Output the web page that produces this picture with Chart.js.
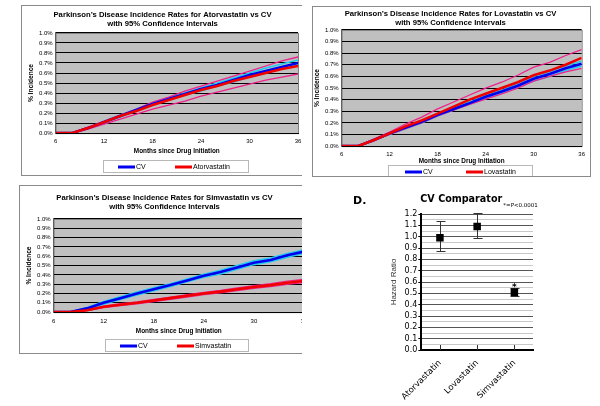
<!DOCTYPE html>
<html>
<head>
<meta charset="utf-8">
<script src="https://cdn.jsdelivr.net/npm/chart.js@4.4.1/dist/chart.umd.min.js"></script>
<style>
body { margin: 0; background: #fff; width: 600px; height: 406px; overflow: hidden; position: relative; }
.panel { position: absolute; overflow: hidden; background: #fff; border: 1px solid #8a8a8a; }
canvas { display: block; }
</style>
</head>
<body>
<div class="panel" style="left:21px;top:5px;width:280px;height:169px;border-right:none"><canvas id="chartA" width="292" height="169"></canvas></div>
<div class="panel" style="left:312px;top:6px;width:277px;height:169px"><canvas id="chartB" width="277" height="169"></canvas></div>
<div class="panel" style="left:19px;top:185px;width:282px;height:167px;border-right:none"><canvas id="chartC" width="296" height="167"></canvas></div>
<canvas id="chartD" width="260" height="221" style="position:absolute;left:340px;top:185px"></canvas>
<script>
// months since drug initiation (x values of the incidence curves)
const months = [6, 8, 10, 12, 14, 16, 18, 20, 22, 24, 26, 28, 30, 32, 34, 36];

// A. Atorvastatin vs CV (% incidence)
const atorCV   = [0, 0, 0.05, 0.11, 0.17, 0.23, 0.29, 0.34, 0.39, 0.44, 0.48, 0.53, 0.58, 0.62, 0.66, 0.70];
const atorCVHi = [0, 0, 0.05, 0.12, 0.18, 0.24, 0.30, 0.35, 0.40, 0.45, 0.50, 0.55, 0.60, 0.65, 0.69, 0.73];
const atorCVLo = [0, 0, 0.05, 0.10, 0.16, 0.22, 0.28, 0.33, 0.38, 0.42, 0.47, 0.51, 0.56, 0.60, 0.64, 0.68];
const ator     = [0, 0, 0.05, 0.11, 0.17, 0.22, 0.28, 0.33, 0.38, 0.43, 0.47, 0.52, 0.56, 0.60, 0.64, 0.67];
const atorHi   = [0, 0, 0.06, 0.12, 0.18, 0.24, 0.31, 0.36, 0.42, 0.47, 0.52, 0.57, 0.62, 0.67, 0.72, 0.76];
const atorLo   = [0, 0, 0.04, 0.09, 0.14, 0.19, 0.24, 0.28, 0.32, 0.37, 0.41, 0.45, 0.49, 0.53, 0.56, 0.59];

// B. Lovastatin vs CV
const lovaCV   = [0, 0, 0.05, 0.11, 0.16, 0.21, 0.27, 0.32, 0.37, 0.425, 0.47, 0.52, 0.58, 0.62, 0.67, 0.71];
const lovaCVHi = [0, 0, 0.05, 0.11, 0.17, 0.22, 0.28, 0.33, 0.38, 0.435, 0.48, 0.54, 0.60, 0.64, 0.69, 0.73];
const lovaCVLo = [0, 0, 0.05, 0.10, 0.15, 0.20, 0.26, 0.31, 0.36, 0.41, 0.46, 0.51, 0.56, 0.60, 0.65, 0.69];
const lova     = [0, 0, 0.05, 0.11, 0.17, 0.22, 0.28, 0.34, 0.40, 0.45, 0.50, 0.55, 0.61, 0.65, 0.70, 0.76];
const lovaHi   = [0, 0, 0.06, 0.12, 0.19, 0.25, 0.32, 0.38, 0.44, 0.50, 0.55, 0.61, 0.68, 0.72, 0.78, 0.83];
const lovaLo   = [0, 0, 0.05, 0.10, 0.15, 0.20, 0.26, 0.31, 0.36, 0.405, 0.45, 0.50, 0.56, 0.60, 0.64, 0.67];

// C. Simvastatin vs CV
const simCV   = [0, 0, 0.04, 0.10, 0.15, 0.20, 0.245, 0.29, 0.34, 0.39, 0.43, 0.48, 0.53, 0.56, 0.61, 0.65];
const simCVHi = [0, 0, 0.05, 0.115, 0.165, 0.215, 0.26, 0.305, 0.355, 0.405, 0.45, 0.50, 0.55, 0.58, 0.63, 0.67];
const simCVLo = [0, 0, 0.03, 0.085, 0.135, 0.185, 0.23, 0.275, 0.325, 0.375, 0.41, 0.46, 0.51, 0.54, 0.59, 0.63];
const sim     = [0, 0, 0.02, 0.057, 0.08, 0.10, 0.125, 0.15, 0.175, 0.20, 0.22, 0.245, 0.27, 0.29, 0.315, 0.335];
const simHi   = [0, 0, 0.025, 0.065, 0.09, 0.11, 0.137, 0.162, 0.188, 0.213, 0.234, 0.26, 0.285, 0.306, 0.332, 0.352];
const simLo   = [0, 0, 0.015, 0.049, 0.07, 0.09, 0.113, 0.138, 0.162, 0.187, 0.206, 0.23, 0.255, 0.274, 0.298, 0.318];

// D. hazard ratios vs CV comparator
const drugs  = ["Atorvastatin", "Lovastatin", "Simvastatin"];
const hr     = [0.99, 1.09, 0.51];
const ciLow  = [0.87, 0.99, 0.48];
const ciHigh = [1.14, 1.21, 0.55];
const significant = [false, false, true];

const COLORS = {
    cv: "#0000F0",
    cvCI: "#22CCEE",
    drug: "#F00000",
    drugCI: "#F0208A",
    plot: "#C0C0C0",
    text: "#000000",
};
const ARIAL = "'Liberation Sans', Arial, sans-serif";
const DEJAVU = "'DejaVu Sans', sans-serif";

// grey plot area with a thin frame, like the old spreadsheet charts
const plotArea = {
    id: "plotArea",
    beforeDraw(chart) {
        const { ctx, chartArea: a } = chart;
        ctx.save();
        ctx.fillStyle = COLORS.plot;
        ctx.fillRect(a.left, a.top, a.width, a.height);
        ctx.strokeStyle = "#808080";
        ctx.lineWidth = 1;
        ctx.strokeRect(a.left + 0.5, a.top + 0.5, a.width, a.height);
        ctx.restore();
    },
};

// boxed legend under the axis title, only the two main series
const boxLegend = {
    id: "boxLegend",
    afterDraw(chart, args, opts) {
        const { ctx } = chart;
        ctx.save();
        ctx.strokeStyle = "#b8b8b8";
        ctx.lineWidth = 1;
        ctx.strokeRect(opts.x + 0.5, opts.y + 0.5, opts.w, opts.h);
        const cy = opts.y + opts.h / 2 + 1;
        const main = chart.data.datasets.filter(d => d.label);
        main.forEach((d, i) => {
            const x0 = opts.x + opts.offsets[i];
            ctx.strokeStyle = d.borderColor;
            ctx.lineWidth = 3;
            ctx.beginPath();
            ctx.moveTo(x0, cy);
            ctx.lineTo(x0 + 17, cy);
            ctx.stroke();
            ctx.fillStyle = COLORS.text;
            ctx.font = "7px " + ARIAL;
            ctx.textBaseline = "middle";
            ctx.fillText(d.label, x0 + 18, cy);
        });
        ctx.restore();
    },
};

function incidenceChart(id, drug, cv, cvHi, cvLo, rx, rxHi, rxLo, lay) {
    const pts = vals => months.map((m, i) => ({ x: m, y: vals[i] }));
    const line = (label, vals, color, width, order) => ({
        label, data: pts(vals), borderColor: color, backgroundColor: color,
        borderWidth: width, pointRadius: 0, order, tension: 0,
    });
    return new Chart(document.getElementById(id), {
        type: "line",
        data: {
            datasets: [
                line("CV", cv, COLORS.cv, 2.6, 1),
                line(drug, rx, COLORS.drug, 2.6, 0),
                line("", cvHi, COLORS.cvCI, 1.6, 3),
                line("", cvLo, COLORS.cvCI, 1.6, 3),
                line("", rxHi, COLORS.drugCI, 1.3, 2),
                line("", rxLo, COLORS.drugCI, 1.3, 2),
            ],
        },
        options: {
            responsive: false,
            animation: false,
            events: [],
            layout: { padding: lay.padding },
            plugins: {
                legend: { display: false },
                tooltip: { enabled: false },
                title: {
                    display: true,
                    text: ["Parkinson\u2019s Disease Incidence Rates for " + drug + " vs CV", "with 95% Confidence Intervals"],
                    font: { family: ARIAL, size: 7.7, weight: "bold", lineHeight: 1.1 },
                    color: COLORS.text,
                    padding: lay.titlePad,
                },
                boxLegend: lay.legend,
            },
            scales: {
                x: {
                    type: "linear", min: 6, max: 36,
                    ticks: { stepSize: 6, font: { family: ARIAL, size: 6 }, color: COLORS.text, padding: lay.xTickPad },
                    grid: { display: false, drawTicks: false },
                    border: { color: "#000" },
                    title: {
                        display: true, text: "Months since Drug Initiation", color: COLORS.text,
                        font: { family: ARIAL, size: 6.4, weight: "bold" }, padding: lay.xTitlePad,
                    },
                },
                y: {
                    min: 0, max: 1,
                    ticks: {
                        stepSize: 0.1, autoSkip: false, callback: v => v.toFixed(1) + "%",
                        font: { family: ARIAL, size: 6 }, color: COLORS.text, padding: 3,
                    },
                    grid: { color: "#000", drawTicks: false },
                    border: { color: "#606060" },
                    title: {
                        display: true, text: "% Incidence", color: COLORS.text,
                        font: { family: ARIAL, size: 6.6, weight: "bold" }, padding: { top: 0, bottom: 1 },
                    },
                },
            },
        },
        plugins: [plotArea, boxLegend],
    });
}

incidenceChart("chartA", "Atorvastatin", atorCV, atorCVHi, atorCVLo, ator, atorHi, atorLo, {
    padding: { left: 5, right: 16, top: 0, bottom: 20 },
    titlePad: { top: 5, bottom: 5 },
    xTickPad: 5,
    xTitlePad: { top: -3, bottom: 0 },
    legend: { x: 81, y: 154, w: 145, h: 12, offsets: [15, 72] },
});
incidenceChart("chartB", "Lovastatin", lovaCV, lovaCVHi, lovaCVLo, lova, lovaHi, lovaLo, {
    padding: { left: 0, right: 2, top: 0, bottom: 11 },
    titlePad: { top: 3, bottom: 3 },
    xTickPad: 5,
    xTitlePad: { top: -6, bottom: 0 },
    legend: { x: 75, y: 158, w: 144, h: 12, offsets: [17, 78] },
});
incidenceChart("chartC", "Simvastatin", simCV, simCVHi, simCVLo, sim, simHi, simLo, {
    padding: { left: 5, right: 12, top: 0, bottom: 18 },
    titlePad: { top: 8, bottom: 8 },
    xTickPad: 6,
    xTitlePad: { top: -4, bottom: 0 },
    legend: { x: 85, y: 153, w: 143, h: 12, offsets: [15, 72] },
});

// error bars, category tick marks and the annotation texts of panel D
const errorBars = {
    id: "errorBars",
    beforeDatasetsDraw(chart) {
        const { ctx, scales: { x, y } } = chart;
        ctx.save();
        ctx.strokeStyle = "#333";
        ctx.lineWidth = 1;
        ctx.beginPath();
        drugs.forEach((d, i) => {
            const px = Math.round(x.getPixelForValue(i)) + 0.5;
            const lo = Math.round(y.getPixelForValue(ciLow[i])) + 0.5;
            const hi = Math.round(y.getPixelForValue(ciHigh[i])) + 0.5;
            ctx.moveTo(px, lo); ctx.lineTo(px, hi);
            ctx.moveTo(px - 4, lo); ctx.lineTo(px + 5, lo);
            ctx.moveTo(px - 4, hi); ctx.lineTo(px + 5, hi);
            ctx.moveTo(px, y.bottom); ctx.lineTo(px, y.bottom - 5);
        });
        ctx.stroke();
        ctx.restore();
    },
    afterDraw(chart) {
        const { ctx, chartArea: a, scales: { x, y } } = chart;
        ctx.save();
        ctx.fillStyle = "#000";
        ctx.textBaseline = "alphabetic";
        ctx.font = "bold 11px " + DEJAVU;
        ctx.fillText("D.", 13, 19);
        ctx.font = "bold 9.6px " + DEJAVU;
        ctx.fillText("CV Comparator", a.left - 1, a.top - 12);
        ctx.font = "5.5px " + DEJAVU;
        ctx.fillText("*=P<0.0001", a.left + 82, a.top - 7);
        ctx.font = "bold 9px " + DEJAVU;
        ctx.textAlign = "center";
        significant.forEach((s, i) => {
            if (s) ctx.fillText("*", x.getPixelForValue(i), y.getPixelForValue(ciHigh[i]) + 2);
        });
        ctx.restore();
    },
};

new Chart(document.getElementById("chartD"), {
    type: "line",
    data: {
        labels: drugs,
        datasets: [{
            label: "Hazard Ratio", data: hr, showLine: false,
            pointStyle: "rect", pointRadius: 5.3, backgroundColor: "#000", borderColor: "#000", borderWidth: 0,
        }],
    },
    options: {
        responsive: false,
        animation: false,
        events: [],
        layout: { padding: { left: 49, right: 67, top: 29, bottom: 4 } },
        plugins: { legend: { display: false }, tooltip: { enabled: false } },
        scales: {
            x: {
                offset: true,
                grid: { display: false },
                border: { color: "#000", width: 2 },
                ticks: { minRotation: 45, maxRotation: 45, font: { family: DEJAVU, size: 8.5 }, color: "#000", padding: 0 },
            },
            y: {
                min: 0, max: 1.2,
                ticks: {
                    stepSize: 0.05, autoSkip: false,
                    callback: v => Math.round(v * 20) % 2 === 0 ? v.toFixed(1) : "",
                    font: { family: DEJAVU, size: 8 }, color: "#000", padding: 1,
                },
                grid: {
                    color: c => Math.round(c.tick.value * 20) % 2 === 0 ? "#555" : "#c8c8c8",
                    tickColor: c => Math.round(c.tick.value * 20) % 2 === 0 ? "#000" : "rgba(0,0,0,0)",
                    tickLength: 3,
                },
                border: { color: "#000", width: 2 },
                title: { display: true, text: "Hazard Ratio", color: "#333", font: { family: ARIAL, size: 8 }, padding: { top: 0, bottom: 5 } },
            },
        },
    },
    plugins: [errorBars],
});
</script>
</body>
</html>
